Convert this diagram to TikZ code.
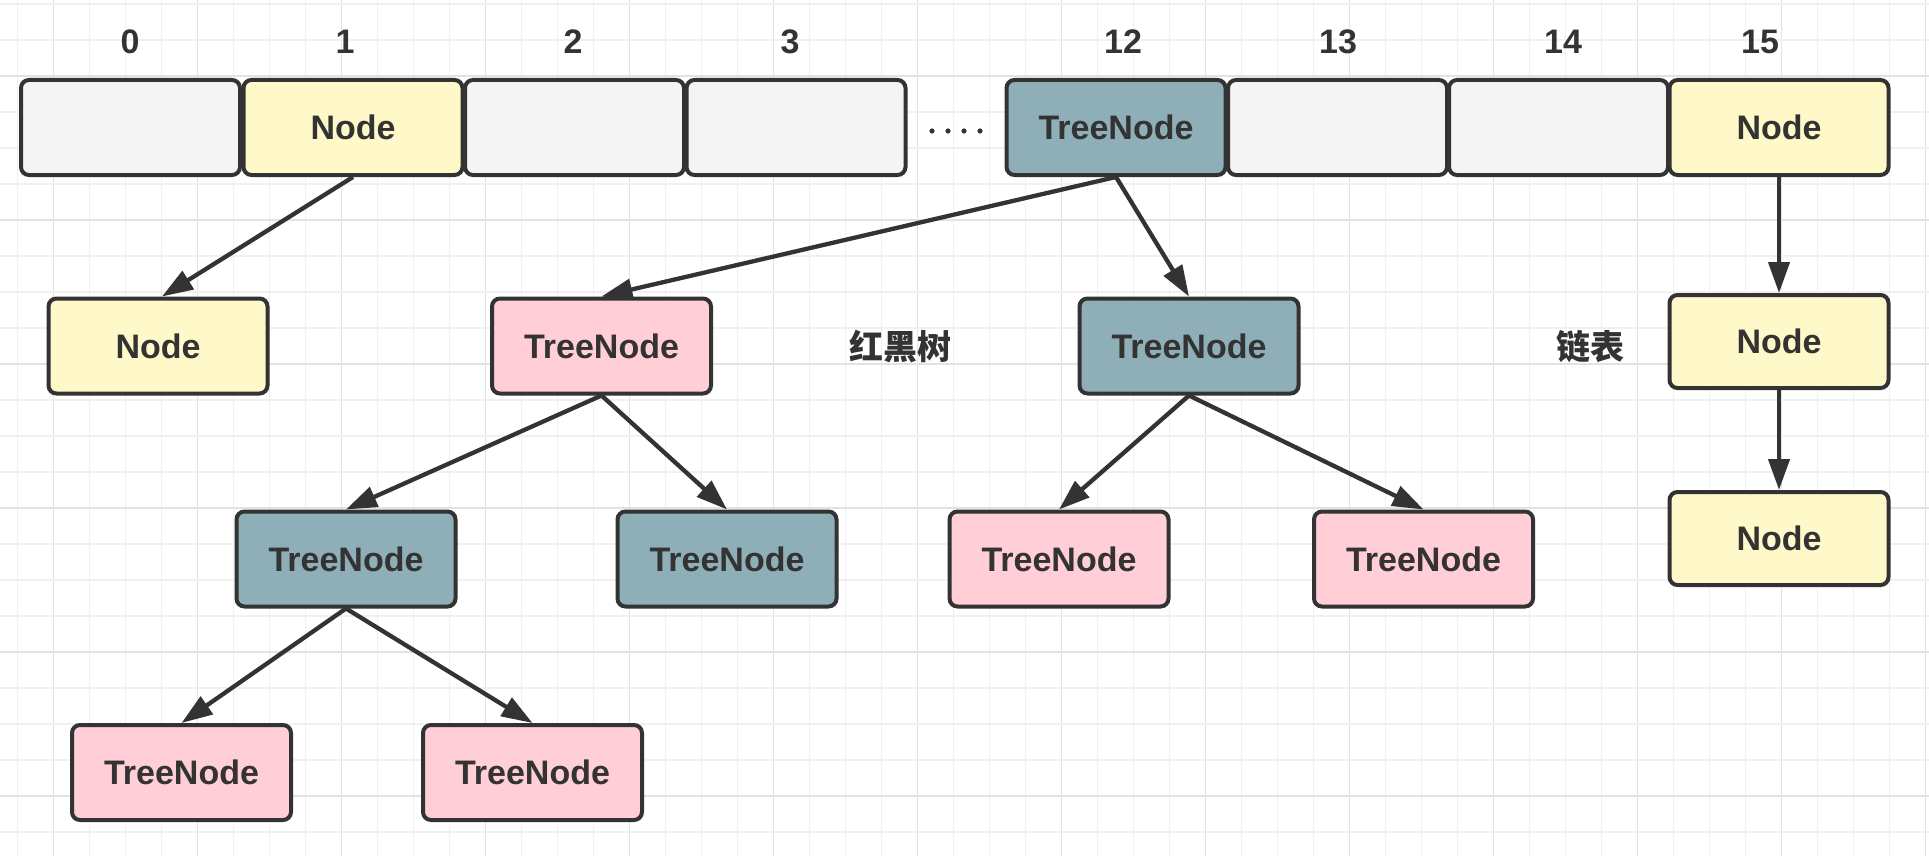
\documentclass[tikz,border=0pt]{standalone}
\usepackage{fontspec}
\setmainfont{Liberation Sans}
\newfontfamily\cjk{Noto Sans CJK SC}
\usetikzlibrary{arrows.meta}
\definecolor{strokec}{HTML}{333333}
\definecolor{cellgray}{HTML}{F4F4F4}
\definecolor{nodeyellow}{HTML}{FFF8C8}
\definecolor{treepink}{HTML}{FFCED6}
\definecolor{treeteal}{HTML}{8EAFB8}
\definecolor{gridminor}{HTML}{F0F0F0}
\definecolor{gridmajor}{HTML}{E2E2E2}
\tikzset{
  box/.style={draw=strokec, line width=4pt, rounded corners=8pt,
    minimum width=219pt, minimum height=95pt, inner sep=0pt,
    text=strokec, font=\fontsize{34}{40}\selectfont\bfseries},
  graycell/.style={box, fill=cellgray},
  yellowbox/.style={box, fill=nodeyellow},
  pinkbox/.style={box, fill=treepink},
  tealbox/.style={box, fill=treeteal},
  idxlabel/.style={text=strokec, inner sep=0pt, font=\fontsize{34}{40}\selectfont\bfseries},
  cjklabel/.style={text=strokec, inner sep=0pt, font=\cjk\fontsize{34}{40}\selectfont\bfseries},
  conn/.style={draw=strokec, line width=4.3pt, -{Triangle[length=31pt,width=21pt]}},
}
\begin{document}
\begin{tikzpicture}[x=1pt,y=-1pt]
\useasboundingbox (0,0) rectangle (1929,856);
\fill[white] (0,0) rectangle (1929,856);
% grid
\foreach \k in {0,...,53} {
  \pgfmathsetmacro{\gx}{17.7+36*\k}
  \pgfmathtruncatemacro{\m}{mod(\k,4)}
  \ifnum\m=1
    \draw[gridmajor, line width=1.5pt] (\gx,0) -- (\gx,856);
  \else
    \draw[gridminor, line width=1.5pt] (\gx,0) -- (\gx,856);
  \fi
}
\foreach \k in {0,...,23} {
  \pgfmathsetmacro{\gy}{4+36*\k}
  \pgfmathtruncatemacro{\m}{mod(\k,4)}
  \ifnum\m=2
    \draw[gridmajor, line width=1.5pt] (0,\gy) -- (1929,\gy);
  \else
    \draw[gridminor, line width=1.5pt] (0,\gy) -- (1929,\gy);
  \fi
}
% array cells
\node[graycell] (c0) at (130.5,127.5) {};
\node[yellowbox] (c1) at (353,127.5) {Node};
\node[graycell] (c2) at (574.5,127.5) {};
\node[graycell] (c3) at (796,127.5) {};
\node[tealbox] (c12) at (1116,127.5) {TreeNode};
\node[graycell] (c13) at (1337.5,127.5) {};
\node[graycell] (c14) at (1558.5,127.5) {};
\node[yellowbox] (c15) at (1779,127.5) {Node};
% index labels
\node[idxlabel] (l0) at (130,42) {0};
\node[idxlabel] (l1) at (345,42) {1};
\node[idxlabel] (l2) at (573,42) {2};
\node[idxlabel] (l3) at (790,42) {3};
\node[idxlabel] (l12) at (1123,42) {12};
\node[idxlabel] (l13) at (1338,42) {13};
\node[idxlabel] (l14) at (1563,42) {14};
\node[idxlabel] (l15) at (1760,42) {15};
% dots
\foreach \dx in {932,948,964,980} \fill[strokec] (\dx,131) circle (2.6pt);
% second row
\node[yellowbox] (na) at (158,346) {Node};
\node[pinkbox] (p2) at (601.5,346) {TreeNode};
\node[tealbox] (t2) at (1189,346) {TreeNode};
\node[yellowbox, minimum height=93pt] (ls1) at (1779,341.5) {Node};
\node[yellowbox, minimum height=93pt] (ls2) at (1779,538.5) {Node};
% third row
\node[tealbox] (t3a) at (346,559) {TreeNode};
\node[tealbox] (t3b) at (727,559) {TreeNode};
\node[pinkbox] (p3a) at (1059,559) {TreeNode};
\node[pinkbox] (p3b) at (1423.5,559) {TreeNode};
% fourth row
\node[pinkbox] (p4a) at (181.5,772.5) {TreeNode};
\node[pinkbox] (p4b) at (532.5,772.5) {TreeNode};
% labels
\node[cjklabel] (rb) at (900,347) {红黑树};
\node[cjklabel] (lb) at (1590,347) {链表};
% connectors
\draw[conn] (c1.south) -- ([xshift=4pt]na.north);
\draw[conn] (c12.south) -- (p2.north);
\draw[conn] (c12.south) -- (t2.north);
\draw[conn] (p2.south) -- (t3a.north);
\draw[conn] (p2.south) -- (t3b.north);
\draw[conn] (t2.south) -- (p3a.north);
\draw[conn] (t2.south) -- (p3b.north);
\draw[conn] (t3a.south) -- (p4a.north);
\draw[conn] (t3a.south) -- (p4b.north);
\draw[conn] (c15.south) -- (ls1.north);
\draw[conn] (ls1.south) -- (ls2.north);
\end{tikzpicture}
\end{document}
